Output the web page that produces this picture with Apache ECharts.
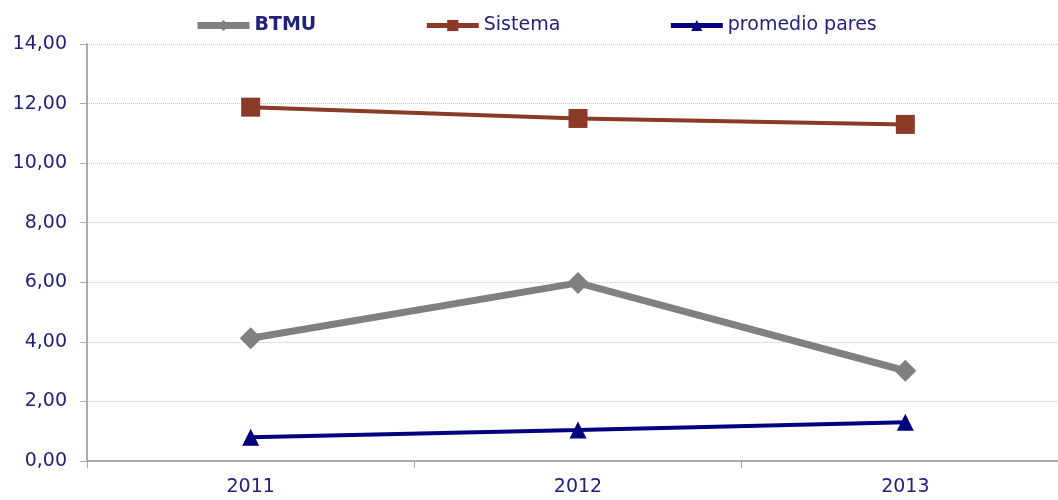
<!DOCTYPE html>
<html>
<head>
<meta charset="utf-8">
<script src="https://cdn.jsdelivr.net/npm/echarts@6/dist/echarts.min.js"></script>
<style>
  html, body { margin: 0; padding: 0; background: #fff; }
  #chart { width: 1058px; height: 500px; }
</style>
</head>
<body>
<div id="chart"></div>
<script>
const years = ['2011', '2012', '2013'];
const btmu = [4.12, 5.98, 3.03];
const sistema = [11.88, 11.50, 11.30];
const promedioPares = [0.80, 1.04, 1.30];

const textColor = '#22227a';
const font = 'DejaVu Sans';

const chart = echarts.init(document.getElementById('chart'));

chart.setOption({
  animation: false,
  textStyle: { fontFamily: font },
  legend: {
    top: 11,
    left: 189,
    itemWidth: 52,
    itemHeight: 14,
    itemGap: 108,
    textStyle: { fontSize: 19, color: textColor, fontFamily: font },
    data: [
      { name: 'BTMU', textStyle: { fontWeight: 'bold' }, lineStyle: { width: 7 } },
      { name: 'Sistema', lineStyle: { width: 5 } },
      { name: 'promedio pares', lineStyle: { width: 5 } }
    ]
  },
  grid: { left: 87, width: 982, top: 44, bottom: 39, outerBoundsMode: 'none' },
  xAxis: {
    type: 'category',
    data: years,
    boundaryGap: true,
    axisLine: { lineStyle: { color: '#aaaaaa', width: 2 } },
    axisTick: { show: true, length: 7, lineStyle: { color: '#aaaaaa', width: 1 } },
    axisLabel: { fontSize: 19, color: textColor, margin: 17, fontFamily: font }
  },
  yAxis: {
    type: 'value',
    min: 0,
    max: 14,
    interval: 2,
    axisLine: { show: true, lineStyle: { color: '#aaaaaa', width: 2 } },
    axisTick: { show: true, length: 7, lineStyle: { color: '#aaaaaa', width: 1 } },
    axisLabel: {
      fontSize: 19, color: textColor, margin: 20, fontFamily: font,
      formatter: v => v.toFixed(2).replace('.', ',')
    },
    splitLine: { lineStyle: { color: '#c8c8c8', type: 'dotted', width: 1 } }
  },
  series: [
    {
      name: 'BTMU',
      type: 'line',
      data: btmu,
      color: '#808080',
      lineStyle: { width: 7, color: '#808080' },
      symbol: 'diamond',
      symbolSize: 22,
      itemStyle: { color: '#808080' },
      z: 3
    },
    {
      name: 'Sistema',
      type: 'line',
      data: sistema,
      color: '#8c3a28',
      lineStyle: { width: 4, color: '#8c3a28' },
      symbol: 'rect',
      symbolSize: 19,
      itemStyle: { color: '#8c3a28' }
    },
    {
      name: 'promedio pares',
      type: 'line',
      data: promedioPares,
      color: '#000080',
      lineStyle: { width: 4, color: '#000080' },
      symbol: 'triangle',
      symbolSize: 17,
      itemStyle: { color: '#000080' }
    }
  ]
});
</script>
</body>
</html>
